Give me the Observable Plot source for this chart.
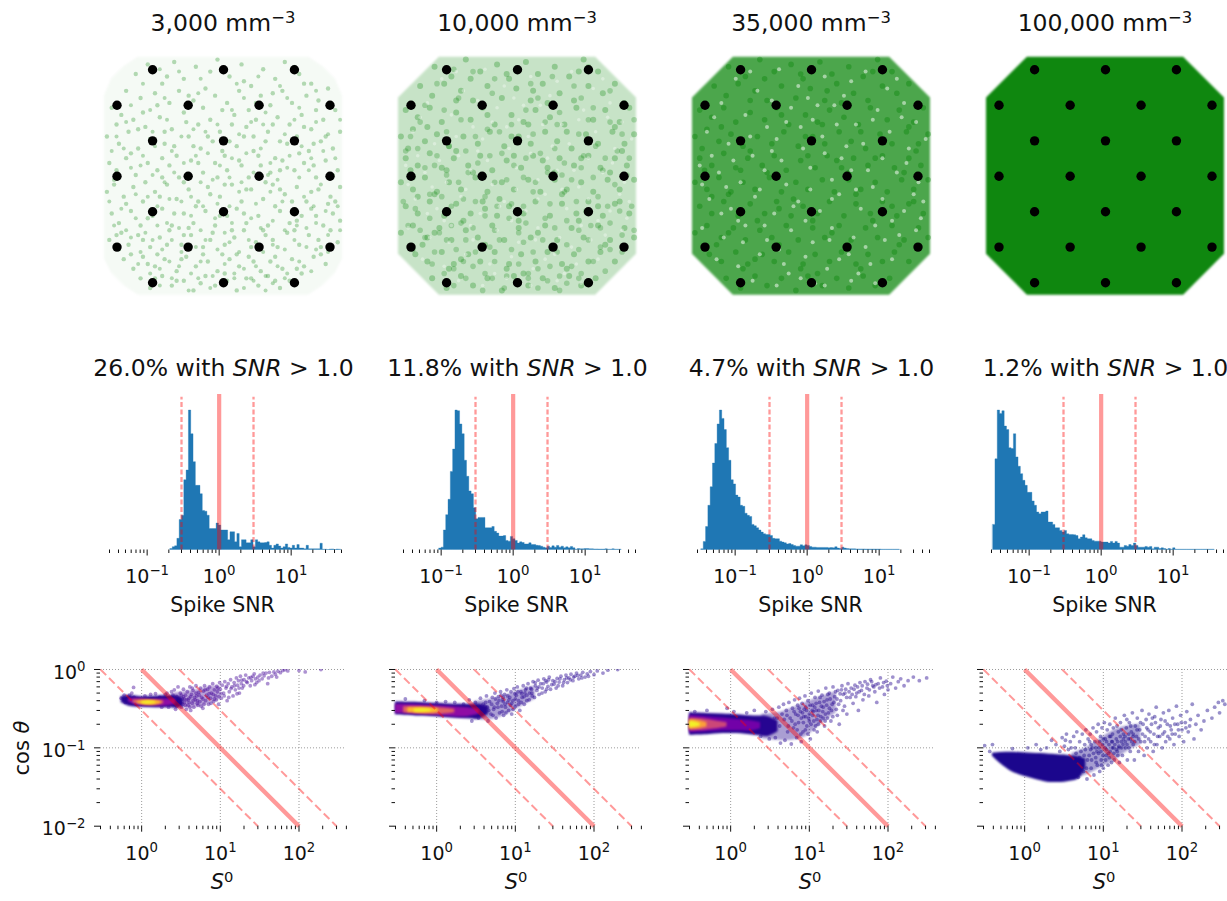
<!doctype html>
<html><head><meta charset="utf-8">
<script src="https://cdn.jsdelivr.net/npm/d3@7"></script>
<script src="https://cdn.jsdelivr.net/npm/@observablehq/plot@0.6"></script>
<style>
html,body{margin:0;padding:0;background:#fff}
#page{position:relative;width:1227px;height:901px;overflow:hidden;font-family:"DejaVu Sans",sans-serif;color:#111}
.t{position:absolute;transform:translate(-50%,-50%);white-space:nowrap}
.s{font-size:.7em;position:relative;top:-.5em;line-height:0}
</style></head><body><div id="page"></div>
<script>
// ---------- labels ----------
const densities = ["3,000","10,000","35,000","100,000"];
const fractions = ["26.0%","11.8%","4.7%","1.2%"];
const decadeLabels = new Map([[0.01,"10⁻²"],[0.1,"10⁻¹"],[1,"10⁰"],[10,"10¹"],[100,"10²"]]);

// ---------- probe layout, in the same 0-99 units as the neuron clouds ----------
const electrodeX = [20,49.5,79, 5.2,34.8,64.3,93.8, 20,49.5,79, 5.2,34.8,64.3,93.8, 20,49.5,79, 5.2,34.8,64.3,93.8, 20,49.5,79];
const electrodeY = [5.2,5.2,5.2, 20,20,20,20, 34.8,34.8,34.8, 49.5,49.5,49.5,49.5, 64.3,64.3,64.3, 79,79,79,79, 93.8,93.8,93.8];

// ---------- outline of each neuron cloud ----------
const cloudX = [0,17,82,99];
const cloudTop = [17,0,0,17];
const cloudBottom = [82,99,99,82];
const roundX = [0,3,8,14,85,91,96,99];
const roundTop = [16,9,4,0,0,4,9,16];
const roundBottom = [84,90,95,99,99,95,90,84];

// ---------- neurons read from the top row, flat x,y pairs ----------
const neurons1 = [13,7,18,3,24,11,29,2,33,9,38,4,42,13,47,1,52,8,57,3,61,12,66,5,71,9,75,2,81,7,86,11,
9,14,15,17,21,15,27,19,31,14,37,18,41,21,46,16,51,19,56,14,60,22,65,16,69,20,74,14,78,19,84,16,89,18,93,13,
3,21,7,24,12,26,17,29,23,25,28,30,33,23,39,28,44,26,48,31,54,24,59,29,63,26,68,31,72,25,77,28,82,24,86,30,91,26,96,22,
1,33,6,36,10,31,14,38,19,34,25,36,30,41,35,33,40,38,45,35,50,41,55,37,58,33,62,39,67,35,71,42,76,36,80,33,85,39,90,35,95,38,98,31,
2,44,5,47,9,42,13,49,18,44,22,47,27,45,31,50,36,43,41,48,46,44,51,47,56,43,60,50,65,45,69,48,74,43,79,47,83,44,88,50,92,43,97,47,
1,56,4,53,8,58,12,54,16,60,21,56,26,53,30,59,35,55,39,60,43,54,48,58,53,53,57,60,61,55,66,59,70,53,75,57,80,54,84,60,89,55,94,58,98,54,
3,65,6,69,11,64,15,70,20,66,24,63,28,70,33,65,37,69,42,64,46,70,51,66,55,63,59,69,64,66,68,70,73,64,77,69,82,66,86,63,91,70,95,65,98,68,
2,76,7,73,10,78,14,74,19,79,23,75,27,72,32,78,36,74,41,79,45,73,50,78,54,75,58,72,63,77,67,74,72,79,76,73,81,78,85,74,90,79,94,72,97,77,
8,84,12,88,16,83,21,87,25,84,30,89,34,83,38,87,43,85,47,89,52,84,56,87,60,83,65,89,69,85,74,88,78,84,83,87,87,83,92,86,
15,92,19,96,24,91,28,95,33,93,37,97,42,91,46,95,51,93,55,97,59,92,64,95,68,91,73,96,77,93,82,90,
22,20,26,8,35,16,44,6,49,22,58,10,63,19,70,15,83,11,88,22,
5,28,16,23,25,31,34,27,43,33,53,28,62,33,73,35,83,29,92,33,
11,40,24,42,29,37,39,44,49,39,57,45,64,41,73,47,81,40,87,45,
4,51,17,52,23,58,33,52,44,57,50,53,59,55,67,52,78,60,86,56,96,60,
9,61,18,67,29,65,38,62,48,66,58,65,71,62,80,68,88,66,93,61,
5,74,16,76,26,78,35,71,44,76,53,72,61,79,70,76,79,72,89,76,
11,82,22,82,32,84,41,82,49,82,62,85,71,83,80,88,90,82,
21,92,30,93,40,94,50,90,61,92,71,93,80,94,
14,30,37,37,52,35,70,28,24,50,47,50,73,55,33,74,66,72,55,82,18,86,87,36];

const neurons1b = [16,11,23,5,31,6,40,9,49,5,55,11,64,8,73,12,79,4,88,14,11,20,19,22,25,17,35,20,39,15,53,22,58,17,67,23,76,17,81,21,94,19,
5,33,9,27,20,31,26,26,32,33,37,30,42,31,47,28,56,32,61,27,66,28,75,32,79,26,88,27,93,32,98,26,
3,39,8,38,16,41,21,37,28,39,33,44,38,41,43,40,48,45,53,42,59,40,65,38,69,44,77,41,82,37,86,42,91,39,96,42,
6,50,11,46,15,45,20,49,25,52,29,48,35,49,40,52,45,51,52,50,57,52,62,48,68,49,72,51,76,46,81,50,85,47,90,53,95,49,
2,60,7,63,13,57,18,58,22,62,27,59,32,60,36,58,41,62,47,61,52,62,56,56,63,61,69,56,74,60,78,64,83,58,87,62,92,64,97,62,
4,70,9,72,13,67,17,73,22,70,26,69,31,71,36,66,40,72,46,67,50,73,53,69,61,67,65,71,70,68,75,72,80,70,84,71,88,69,93,74,98,72,
6,80,11,75,15,81,20,76,24,80,28,76,32,81,38,79,42,76,47,80,52,77,56,81,60,76,66,81,70,78,75,80,79,76,84,79,88,80,93,81,
14,86,19,90,23,88,27,85,31,87,36,90,40,85,45,91,50,86,54,90,58,88,63,87,67,91,72,87,76,90,81,85,86,89,
23,95,28,92,35,97,39,92,44,96,49,93,54,92,58,96,62,93,67,97,70,94,75,92];

const neurons2 = [15,4,22,8,28,1,34,6,41,3,46,9,53,2,58,7,65,4,71,8,77,1,83,6,
9,12,14,16,19,11,26,14,31,18,37,12,43,17,49,13,55,18,60,11,67,15,73,18,79,12,85,15,90,11,
3,22,8,25,13,21,18,27,24,23,30,26,35,21,40,28,47,24,52,27,57,22,63,25,69,28,74,21,81,26,86,22,92,27,96,21,
1,33,6,30,11,35,16,32,21,37,27,33,33,36,38,31,44,37,50,33,55,36,61,31,66,35,72,38,78,32,83,36,89,31,94,36,98,32,
3,42,8,45,13,40,18,46,23,42,29,45,34,41,39,47,45,43,51,46,56,41,62,46,67,42,73,45,79,41,84,46,90,42,95,45,
1,52,6,55,11,50,16,56,21,52,26,55,32,50,37,56,43,52,48,55,54,51,59,56,65,51,70,55,76,52,81,56,87,51,92,55,98,51,
3,62,8,65,13,60,19,66,24,61,30,65,35,60,41,66,46,62,52,65,57,60,63,66,68,61,74,65,79,60,85,66,90,61,96,65,
1,73,6,70,12,75,17,71,22,76,28,72,33,75,39,70,44,76,50,71,55,75,61,70,66,76,72,71,77,75,83,70,88,76,94,71,98,75,
7,82,12,85,18,81,23,86,29,82,34,85,40,81,46,86,51,82,57,85,62,81,68,86,73,82,79,85,84,81,90,85,
14,92,20,96,26,91,31,95,37,92,43,97,48,91,54,95,60,92,65,96,71,91,76,95,82,92,
24,18,45,7,62,19,12,29,37,24,70,31,90,29,24,39,47,33,76,42,5,47,31,48,60,43,88,48,
15,57,42,59,68,57,92,60,27,68,50,68,75,68,10,78,36,78,64,79,86,78,21,88,45,88,70,88,
30,9,56,14,75,6,4,38,54,28,93,39,20,47,65,48,48,41,8,58,36,63,83,62,15,73,58,73,26,84,52,90];

const specks3 = [18,9,27,14,36,5,44,12,55,8,63,16,72,6,81,13,12,19,22,24,31,29,41,21,50,26,59,20,68,28,77,22,88,19,93,27,
6,31,15,36,25,41,35,34,46,38,54,33,62,42,71,36,82,31,90,38,97,34,
3,45,11,48,20,52,30,47,39,53,49,46,58,51,66,47,75,54,85,48,94,52,
7,59,16,63,26,58,34,65,44,60,53,64,61,57,70,63,79,59,88,64,96,60,
4,71,13,75,22,70,31,76,41,72,50,77,58,71,67,75,76,70,86,74,93,72,
10,84,19,87,28,82,38,86,47,83,56,88,65,82,74,86,83,84,25,93,35,95,45,92,55,95,66,93,76,94,
24,6,48,17,85,9,9,25,39,27,75,26,55,40,17,43,89,44,28,55,68,55,47,68,83,68,36,80,61,84,21,77,
14,54,52,20,33,18,66,10,79,42,42,62,57,76,92,57,12,65,72,79,30,70,64,37,45,29,87,25,
24,33,8,41,37,43,60,28,73,47,19,68,49,55,80,76,40,90,69,90,4,53,95,67,33,39,58,59,51,94];

// ---------- scatter of S0 against cos theta, flat pairs for the sparse tail ----------
const tail1 = [.6,.47,.55,.43,.62,.38,.7,.47,.75,.5,.8,.44,.85,.36,.79,.59,1.1,.46,1.3,.48,1.5,.49,1.7,.44,1.8,.33,2,.48,2.1,.5,2.2,.33,2.4,.52,2.5,.47,2.6,.55,2.7,.31,2.8,.45,2.9,.6,3,.36,3.1,.5,3.2,.33,3.3,.42,3.4,.56,3.5,.38,3.6,.47,3.7,.31,3.8,.52,3.9,.35,4,.43,4.1,.6,4.2,.3,4.3,.48,4.4,.37,4.5,.54,4.6,.33,4.8,.41,4.9,.62,5,.46,5.2,.35,5.3,.51,5.5,.39,5.6,.58,5.8,.44,6,.32,6.1,.53,6.3,.62,6.5,.4,6.7,.47,6.9,.56,7.1,.36,7.3,.6,7.5,.43,7.7,.5,8,.66,8.2,.39,8.4,.55,8.7,.46,9,.61,9.2,.52,9.5,.36,9.8,.68,10,.56,10.3,.43,10.6,.63,11,.5,11.4,.7,11.8,.58,12.2,.4,12.6,.66,13,.52,13.5,.74,14,.6,14.5,.46,15,.68,15.5,.55,16,.78,16.5,.63,17,.72,17.5,.5,18,.82,18.5,.66,19,.58,20,.74,21,.85,22,.68,23,.78,24,.62,25,.72,26,.82,27,.88,28,.76,29,.68,30,.8,32,.85,34,.76,36,.83,38,.9,40,.66,42,.92,45,.82,48,.93,50,.87,54,.95,58,.91,62,.97,66,.99,72,.96,100,.97,120,.93,190,1,3.3,.36,2.9,.4,4,.38,3.4,.45,4.7,.44,2.6,.37,5.1,.4,3,.43,3.7,.41,2.8,.34,
2.7,.39,3.2,.47,3.9,.41,4.4,.58,5.1,.37,5.4,.47,6.2,.36,6.4,.55,7,.44,7.6,.37,8.1,.48,8.9,.41,9.3,.58,10.2,.49,11.2,.46,12,.61,12.8,.44,13.7,.57,15.1,.62,16.3,.49,17.3,.58,18.7,.73,19.8,.62,21.5,.7,24.5,.79,27.5,.64,31,.72,35,.9,41,.78,52,.8,3.6,.35,4.2,.45,4.5,.4,5.7,.34,3.1,.38,3.5,.42,4.1,.33,4.9,.5,6,.42,7.2,.49,8.4,.42,9.6,.45];

const tail2 = [.4,.42,.7,.4,1,.38,1.3,.39,1.7,.38,2.2,.36,2.6,.41,2.8,.22,3.1,.38,3.4,.24,3.6,.43,3.9,.28,4.1,.34,4.3,.46,4.5,.22,4.7,.39,4.9,.27,5.1,.44,5.3,.31,5.5,.5,5.7,.24,5.9,.37,6.1,.45,6.3,.28,6.5,.52,6.7,.34,6.9,.41,7.1,.26,7.3,.48,7.5,.33,7.8,.55,8,.38,8.2,.3,8.5,.44,8.8,.52,9,.27,9.3,.4,9.6,.57,10,.34,10.3,.47,10.6,.6,11,.4,11.4,.3,11.8,.52,12.2,.44,12.6,.62,13,.36,13.5,.55,14,.47,14.5,.66,15,.41,15.6,.58,16.2,.5,16.8,.7,17.5,.44,18,.62,18.8,.54,19.5,.73,20,.48,21,.66,22,.58,23,.76,24,.52,25,.69,26,.61,27,.8,28,.56,30,.72,31,.65,33,.58,34,.77,36,.69,38,.82,40,.62,42,.74,44,.85,46,.68,48,.78,51,.87,54,.72,57,.82,60,.9,64,.76,68,.85,72,.92,77,.8,82,.88,90,.94,100,.86,110,.96,130,.9,150,.98,200,1,5,.36,6,.33,7,.39,8,.46,9,.37,4.6,.3,5.6,.42,6.6,.47,7.6,.28,3.6,.33,4.2,.38,5.2,.26,10,.42,12,.49,14,.4,16,.56,20,.6,25,.56,
6.2,.4,7.4,.36,8.7,.35,9.9,.49,11,.36,12.9,.45,13.8,.58,15.2,.5,16.4,.46,17.9,.68,19,.58,21.8,.5,22.7,.66,24.3,.72,26.5,.74,29,.64,32,.7,35,.62,37,.76,41,.68,45,.78,50,.74,55,.8,62,.84,70,.78,85,.82,5.4,.33,6.8,.29,8.3,.41,9.4,.31,10.8,.52,11.9,.38,13.2,.5,4.4,.33,3.9,.36,7,.44];

const tail3 = [.35,.29,.5,.3,.9,.32,1.1,.29,1.6,.28,2,.3,2.4,.14,2.8,.29,3.1,.13,3.4,.31,3.7,.135,3.9,.24,4.1,.33,4.3,.115,4.5,.27,4.7,.36,4.9,.125,5.1,.3,5.3,.16,5.5,.38,5.7,.24,5.9,.112,6.1,.32,6.3,.18,6.5,.41,6.7,.27,6.9,.135,7.1,.35,7.3,.21,7.5,.43,7.7,.29,7.9,.12,8.1,.37,8.3,.16,8.5,.25,8.8,.46,9,.33,9.3,.19,9.6,.4,10,.27,10.3,.13,10.6,.5,11,.35,11.4,.22,11.8,.44,12.2,.3,12.6,.16,13,.53,13.5,.38,14,.25,14.5,.47,15,.33,15.6,.19,16.2,.58,16.8,.41,17.5,.28,18,.5,18.8,.22,19.5,.36,20,.6,21,.45,22,.31,23,.54,24,.2,25,.4,26,.62,27,.48,28,.34,29,.56,30,.27,31,.66,33,.44,34,.58,36,.37,38,.63,40,.5,42,.3,44,.68,46,.54,48,.41,51,.7,54,.58,57,.46,60,.74,64,.62,68,.52,72,.38,75,.66,80,.78,85,.6,90,.48,95,.71,100,.55,108,.66,115,.8,125,.58,135,.7,145,.76,160,.62,180,.72,210,.8,250,.72,310,.78,3,.2,3.6,.24,4.2,.19,4.8,.23,5.4,.19,6,.22,6.6,.2,7.2,.26,7.8,.15,8.4,.21,9,.25,9.6,.15,10.5,.2,11.5,.17,12.5,.23,6.4,.29,7.4,.32,8.2,.28,9.2,.3,10.2,.35,11.2,.29,12.2,.37,13.2,.3,14.2,.34,5.2,.26,16,.27,18,.32,15,.24,13,.2,
8.6,.31,9.8,.24,10.9,.3,11.7,.33,12.9,.26,13.7,.44,14.8,.29,15.4,.39,16.6,.35,17.2,.48,18.4,.42,19.1,.3,20.5,.38,21.5,.52,22.5,.42,23.6,.36,24.6,.49,25.6,.55,26.8,.3,28.4,.5,29.8,.44,32,.52,35,.48,37,.56,39,.45,41,.6,43,.52,47,.62,50,.48,55,.65,58,.55,62,.7,66,.6,70,.64,78,.58,88,.68,98,.62,7,.17,7.9,.24,8.9,.17,10,.22,11,.26,12,.19,13.8,.22,15.9,.22,17,.24,19.9,.25,22.7,.26];

const tail4 = [.31,.107,.36,.09,.39,.11,.7,.098,1.1,.1,1.4,.11,1.6,.095,1.9,.1,2.2,.125,2.5,.11,2.8,.09,3,.135,3.2,.105,3.4,.15,3.6,.095,3.8,.12,4,.047,4.2,.14,4.4,.1,4.6,.16,4.8,.042,5,.12,5.2,.09,5.4,.15,5.6,.05,5.8,.11,6,.17,6.2,.04,6.4,.13,6.6,.08,6.8,.15,7,.055,7.2,.1,7.4,.18,7.6,.045,7.8,.12,8,.075,8.2,.16,8.4,.06,8.6,.2,8.8,.1,9,.05,9.2,.14,9.4,.07,9.6,.18,9.8,.11,10,.055,10.3,.21,10.6,.13,10.9,.08,11.2,.17,11.5,.06,11.8,.11,12.1,.2,12.4,.14,12.7,.065,13,.1,13.4,.18,13.8,.07,14.2,.24,14.6,.13,15,.09,15.5,.16,16,.065,16.5,.21,17,.12,17.5,.08,18,.15,18.5,.26,19,.1,19.6,.18,20.2,.07,20.8,.13,21.4,.21,22,.09,22.7,.16,23.4,.28,24,.11,24.8,.07,25.5,.19,26.3,.14,27,.24,28,.09,29,.17,30,.12,31,.3,32,.2,33,.08,34,.14,35,.23,36,.1,37,.17,38,.27,40,.12,41,.2,43,.09,44,.15,45,.25,47,.33,48,.11,50,.18,52,.14,54,.23,56,.1,58,.28,60,.16,62,.12,65,.2,68,.3,70,.13,73,.17,76,.24,79,.11,82,.15,85,.34,88,.2,92,.14,96,.26,100,.17,105,.12,110,.21,115,.29,120,.16,128,.23,135,.36,142,.13,150,.2,160,.26,175,.17,190,.22,210,.3,240,.24,260,.33,290,.38,300,.28,330,.4,350,.36,400,.42,3.5,.07,4.3,.065,5,.075,5.7,.08,6.3,.07,6.9,.095,7.5,.085,8.1,.065,8.7,.085,9.3,.09,9.9,.08,10.5,.1,11,.095,11.6,.085,12.2,.09,12.8,.12,13.4,.1,14,.11,14.6,.095,15.2,.12,15.8,.105,16.4,.14,17,.1,18,.13,19,.12,20,.11,21,.15,22,.13,23,.12,24,.15,9,.12,10,.13,11,.12,12,.14,13,.12,7,.11,8,.1,
13.1,.15,14.9,.19,15.7,.1,16.9,.17,17.8,.11,18.9,.14,19.9,.23,21.1,.1,22.3,.19,23.9,.14,25.1,.12,26.8,.17,28.2,.13,29.7,.21,31.5,.15,33.5,.12,35.6,.18,37.6,.13,39.5,.16,42,.24,44.5,.11,46,.21,49,.14,53,.19,57,.15,61,.22,66,.14,71,.19,75,.15,81,.2,90,.17,98,.21,112,.18,125,.19,5.3,.06,6.1,.055,7.1,.07,8.3,.09,9.5,.06,10.7,.07,11.9,.075,13.6,.085,15.3,.08,4.5,.085,5.9,.095,6.7,.12,3.3,.125,3.9,.1];

// ---------- translucent haze where the dense core thins out into the tail ----------
const haze1 = {s:[2.5,3.5,5,7,10],lo:[.32,.32,.33,.36,.42],hi:[.5,.52,.55,.6,.62]};
const haze2 = {s:[3,5,8,12,18],lo:[.23,.23,.27,.34,.42],hi:[.39,.42,.48,.55,.62]};
const haze3 = {s:[2.5,4,6,9,14,22],lo:[.13,.125,.125,.14,.2,.28],hi:[.27,.28,.32,.38,.45,.52]};
const haze4 = {s:[4,6,9,14,20,30],lo:[.04,.045,.055,.07,.09,.11],hi:[.085,.1,.13,.17,.19,.2]};

// ---------- dense core of each scatter, as nested density bands ----------
const bands1 = [
 {level:.04,s:[.55,.7,1,1.5,2.2,2.9,3.4],lo:[.38,.34,.33,.325,.325,.325,.345],hi:[.45,.465,.45,.455,.465,.455,.42]},
 {level:.3,s:[.68,.9,1.3,2,2.7],lo:[.385,.35,.345,.34,.36],hi:[.43,.425,.415,.42,.42]},
 {level:.62,s:[.78,1,1.4,1.9],lo:[.375,.355,.35,.365],hi:[.405,.41,.405,.4]},
 {level:.85,s:[.88,1.1,1.5,1.75],lo:[.37,.358,.355,.37],hi:[.39,.4,.4,.39]},
 {level:.98,s:[1,1.2,1.5],lo:[.365,.36,.37],hi:[.385,.395,.385]}];
const bands2 = [
 {level:.04,s:[.3,.6,1,1.6,2.5,3.6,4.6],lo:[.265,.255,.25,.24,.235,.235,.27],hi:[.385,.38,.37,.36,.36,.36,.33]},
 {level:.3,s:[.3,.6,1,1.6,2.5,3.5],lo:[.275,.268,.26,.25,.25,.27],hi:[.36,.355,.345,.335,.325,.31]},
 {level:.6,s:[.38,.6,.9,1.3,1.7],lo:[.28,.272,.268,.27,.28],hi:[.335,.335,.33,.32,.31]},
 {level:.85,s:[.43,.6,.85,1.05],lo:[.283,.278,.278,.285],hi:[.325,.325,.32,.315]},
 {level:.98,s:[.52,.68,.85],lo:[.287,.285,.29],hi:[.312,.315,.31]}];
const bands3 = [
 {level:.04,s:[.3,.5,.8,1.2,2,3,4],lo:[.145,.147,.152,.152,.145,.14,.16],hi:[.28,.275,.27,.265,.255,.25,.22]},
 {level:.22,s:[.3,.5,.8,1.2,1.9,2.4],lo:[.155,.16,.165,.165,.165,.175],hi:[.26,.25,.24,.23,.22,.21]},
 {level:.5,s:[.3,.45,.65,.9],lo:[.165,.168,.175,.185],hi:[.24,.235,.22,.21]},
 {level:.78,s:[.3,.38,.5],lo:[.172,.175,.185],hi:[.228,.225,.21]},
 {level:.98,s:[.3,.35,.41],lo:[.18,.183,.19],hi:[.218,.215,.205]}];
const bands4 = [
 {level:.02,s:[.39,.5,.68,1.1,1.8,2.4,3.5,4.8,6],lo:[.078,.062,.05,.042,.037,.036,.037,.04,.055],hi:[.085,.087,.088,.086,.084,.082,.08,.077,.072]}];

// ---------- spike SNR histograms, bar heights in percent of the tallest bar ----------
const binStart = [25.7,14.8,1,0]; // index of the first bar on the shared log bins
const hist1 = [.7,2,2.6,8,21.5,24.6,50,57,100,83,63,46,46,40,28,27.5,24.6,15,15,15,19,17.5,14,14,14,7,12.7,12.7,5.5,11.5,2,7,7,4.8,4.8,7,2,7,5.5,4.8,4.8,5,5.5,3,1,3,4,2.5,1,2,4,1.5,1,3,1,3.5,1,1,.5,3,.5,.5,.5,.5,.5,4.5,.2,.2,0,.3,.4,0,.3,.2];
const hist2 = [1,1.7,14,25,36,56,72,100,99.5,90,83,64,52.5,42,40,30,22,23,23,23,15.6,15.6,15.6,16.5,13,11.8,9.6,9.6,10,6.5,6,9.4,7.7,6.5,4.6,5.5,5,4,4,4.8,3.6,3.6,3,2.9,2.4,1.7,1.2,2.4,1.4,2.6,1.7,2.9,1.7,2.4,1.2,1.9,1.2,2.2,1.2,.2,.7,.5,.5,.7,.7,.5,.5,.4,.4,.3,.3,.3,.5,.2,.2,.5,.2,.2,.2];
const hist3 = [.5,5.8,16.5,31.7,45,62,76,90,100,94,86,73,64,50,47,39,37.6,31.7,31,26,24.5,23.7,18,17,15.6,14,12.5,11.3,10.8,10.8,10,8,7.7,7.7,6,5.3,4.8,4,4.3,3.6,2.9,2.4,2.4,3.4,2.6,3.4,2.9,2.2,1.7,1.7,1.5,1.5,1.5,1.5,1.5,1.2,1.4,1.2,2,1,.8,1.7,1,.7,.5,.5,.5,.4,.4,.4,.4,.3,.3,.3,.3,.3,.3,.3,.2,.2,.2,.2,.2,.2,.2,.2];
const hist4 = [18,65,100,97.6,99.5,88.5,86,73,72.4,83,66.4,59.7,54.4,49.6,46,41,41,34.8,31.7,26.9,25.7,26.9,26.9,27.6,19.7,19.7,18,15.6,15.6,13.7,12.5,13.7,11.3,10.8,10.8,10.6,10,7.7,8.9,10.6,8.4,7.7,7.7,6.5,6,6,6,5.3,5.3,5.3,4.6,5.8,4.6,5.8,4.6,1.7,1.7,2.9,2.4,3.6,2.9,4.6,2.9,1.7,1.7,1.7,2.2,1.7,2.2,.5,1.7,1.7,.7,1.2,.7,.2,.7,.2,1.2,.2,.2,.2,.2,.2,.2,.2,.2,.2,.2,.2,.2,.2,.2,.2,.2,.2];

// ---------- reference lines: S0 * cos theta = 0.3, 1, 3 ----------
const solidLine = [[1,1],[100,.01]];
const dashLow = [[.3,1],[30,.01]];
const dashHigh = [[3,1],[300,.01]];

const histMajor = [.1,1,10];
const histMinor = [.03,.04,.05,.06,.07,.08,.09,.2,.3,.4,.5,.6,.7,.8,.9,2,3,4,5,6,7,8,9,20,30,40,50];
const sMajor = [1,10,100];
const sMinor = [.3,.4,.5,.6,.7,.8,.9,2,3,4,5,6,7,8,9,20,30,40,50,60,70,80,90,200,300,400];
const cMajor = [1,.1,.01];
const cMinor = [.9,.8,.7,.6,.5,.4,.3,.2,.09,.08,.07,.06,.05,.04,.03,.02];

// ---------- helpers ----------
const page = document.getElementById("page");
const font = '"DejaVu Sans",sans-serif';
const pairs = a => d3.range(0, a.length, 2).map(i => [a[i], a[i+1]]);
const fmt = d => decadeLabels.get(d);
const SVGNS = "http://www.w3.org/2000/svg";
const supMap = {"⁻":"−","⁰":"0","¹":"1","²":"2","³":"3"};
function place(svg, soft){
  svg.querySelectorAll("text").forEach(t=>{
    const m = /^10([⁻⁰¹²]+)$/.exec(t.textContent);
    if(!m) return;
    t.textContent = "10";
    const s = document.createElementNS(SVGNS,"tspan");
    s.setAttribute("dy","-.55em"); s.setAttribute("font-size","70%");
    s.textContent = [...m[1]].map(c=>supMap[c]).join("");
    t.appendChild(s);
  });
  svg.querySelectorAll('g[aria-label="y-axis tick label"] text').forEach(t=>{
    t.setAttribute("transform",(t.getAttribute("transform")||"")+" translate(0,3)");
  });
  if (soft) soft(svg);
  page.appendChild(svg);
}
const blurGroups = (svg, sel, px, skipLast) => {
  const gs = [...svg.querySelectorAll(sel)];
  if (skipLast) gs.pop();
  gs.forEach(g => g.style.filter = `blur(${px}px)`);
};
function label(html, x, y, size, rot){
  const d = document.createElement("div");
  d.className = "t"; d.innerHTML = html;
  d.style.left = x+"px"; d.style.top = y+"px"; d.style.fontSize = size+"px";
  if (rot) d.style.transform = "translate(-50%,-50%) rotate(-90deg)";
  page.appendChild(d);
}
const svgStyle = (l,t,fs) => ({position:"absolute",left:l+"px",top:t+"px",background:"transparent",maxWidth:"none",fontFamily:font,fontSize:fs+"px",color:"#111"});
const electrodes = electrodeX.map((x,i)=>[x,electrodeY[i]]);

// ---------- top row ----------
const n1 = pairs(neurons1), n1b = pairs(neurons1b), n2 = pairs(neurons2), sp3 = pairs(specks3);
const panelsTop = [
 {c:223, outline:[roundX,roundTop,roundBottom], wash:.04, layers:[[n1,2.2,"#008000",.28],[n1b,2,"#008000",.28]]},
 {c:517, outline:[cloudX,cloudTop,cloudBottom], wash:.22, layers:[[n2,3,"#008000",.28],[n1b,2.8,"#008000",.24],[sp3,1.8,"#ffffff",.35]]},
 {c:811, outline:[cloudX,cloudTop,cloudBottom], wash:.7, layers:[[n2,2.8,"#008000",.35],[sp3,2,"#ffffff",.5]]},
 {c:1105,outline:[cloudX,cloudTop,cloudBottom], wash:.94, layers:[]}];
panelsTop.forEach((p,k)=>{
  const [ox,ot,ob] = p.outline;
  const poly = ox.map((x,i)=>({x,y1:ot[i],y2:ob[i]}));
  place(Plot.plot({width:262,height:262,marginLeft:0,marginRight:0,marginTop:0,marginBottom:0,
    style:svgStyle(p.c-131,46,10),
    x:{domain:[0,99],range:[12,250],axis:null},
    y:{domain:[0,99],range:[10.7,248.7],axis:null},
    marks:[
      Plot.areaY(poly,{x:"x",y1:"y1",y2:"y2",fill:"#008000",fillOpacity:p.wash,curve:"linear"}),
      ...p.layers.map(([pts,r,fill,op])=>Plot.dot(pts,{x:d=>d[0],y:d=>d[1],r,fill,fillOpacity:op,stroke:"none"})),
      Plot.dot(electrodes,{x:d=>d[0],y:d=>d[1],r:4.7,fill:"#000",stroke:"none"})
    ]}), svg=>{blurGroups(svg,'g[aria-label="area"]',.8);blurGroups(svg,'g[aria-label="dot"]',.55,true);});
  label(`${densities[k]} mm<span class="s">−3</span>`, p.c, 23, 23.5);
});

// ---------- middle row ----------
const histData = [hist1,hist2,hist3,hist4];
const logMin = -1.5, logStep = .03205;
histData.forEach((h,k)=>{
  const c0 = 219 + 294*k, frameLeft = c0-109.7, frameW = 232;
  const edge = i => 10**(logMin+(binStart[k]+i)*logStep);
  const bars = h.map((v,i)=>({x:edge(i),v}));
  bars.push({x:edge(h.length),v:0});
  place(Plot.plot({width:frameW+60,height:230,marginLeft:30,marginRight:30,marginTop:4,marginBottom:70.5,
    style:svgStyle(frameLeft-30,390,19),
    x:{type:"log",domain:[.03,50]},
    y:{domain:[0,111.5],axis:null},
    marks:[
      Plot.areaY(bars,{x:"x",y:"v",curve:"step-after",fill:"#1f77b4",stroke:"#1f77b4",strokeOpacity:.35,strokeWidth:1}),
      Plot.ruleX([1],{stroke:"red",strokeOpacity:.4,strokeWidth:4.2}),
      Plot.ruleX([.3,3],{y1:0,y2:109.6,stroke:"red",strokeOpacity:.4,strokeWidth:2.3,strokeDasharray:"5 2.5"}),
      Plot.axisX(histMajor,{anchor:"bottom",tickSize:6,tickPadding:13,tickFormat:fmt,stroke:"#111",fill:"#111",label:null}),
      Plot.axisX(histMinor,{anchor:"bottom",tickSize:3.5,fill:"none",stroke:"#111",label:null})
    ]}));
  label(`${fractions[k]} with <i>SNR</i> &gt; 1.0`, 223.5+294*k, 368, 23.5);
  label("Spike SNR", 222.5+294*k, 605, 20.5);
});

// ---------- bottom row ----------
const scatters = [
 {tail:pairs(tail1),bands:bands1,haze:haze1,fill:"#4a0d9c"},
 {tail:pairs(tail2),bands:bands2,haze:haze2,fill:"#2d0c94"},
 {tail:pairs(tail3),bands:bands3,haze:haze3,fill:"#2a0c92"},
 {tail:pairs(tail4),bands:bands4,haze:haze4,fill:"#1d0a8c"}];
scatters.forEach((sc,k)=>{
  const frameLeft = 100.3+294.2*k;
  const rowsOf = b => b.s.map((s,i)=>({s,lo:b.lo[i],hi:b.hi[i]}));
  const bandMarks = sc.bands.map(b=>Plot.areaY(rowsOf(b),{x:"s",y1:"lo",y2:"hi",fill:d3.interpolatePlasma(b.level),curve:"catmull-rom"}));
  const line = (pts,w,dash)=>Plot.line(pts,{x:d=>d[0],y:d=>d[1],stroke:"red",strokeOpacity:.4,strokeWidth:w,strokeDasharray:dash,strokeLinecap:"butt"});
  place(Plot.plot({width:100+245.9+20,height:240,marginLeft:100,marginRight:20,marginTop:19,marginBottom:64.3,
    style:svgStyle(frameLeft-100,650,19),
    x:{type:"log",domain:[.3,400]},
    y:{type:"log",domain:[.01,1]},
    marks:[
      Plot.ruleX(sMajor,{stroke:"#999",strokeWidth:1,strokeDasharray:"1 2"}),
      Plot.ruleY([1,.1],{stroke:"#999",strokeWidth:1,strokeDasharray:"1 2"}),
      Plot.areaY(rowsOf(sc.haze),{x:"s",y1:"lo",y2:"hi",fill:sc.fill,fillOpacity:.4,curve:"catmull-rom"}),
      Plot.dot(sc.tail,{x:d=>d[0],y:d=>d[1],r:1.9,fill:sc.fill,fillOpacity:.45,stroke:"none",clip:true}),
      ...bandMarks,
      line(solidLine,4.4),line(dashLow,2,"8 4"),line(dashHigh,2,"8 4"),
      Plot.axisX(sMajor,{anchor:"bottom",tickSize:6,tickPadding:14,tickFormat:fmt,stroke:"#111",fill:"#111",label:null}),
      Plot.axisX(sMinor,{anchor:"bottom",tickSize:3.5,fill:"none",stroke:"#111",label:null}),
      Plot.axisY(cMajor,{anchor:"left",tickSize:6,tickPadding:9,tickFormat:fmt,stroke:"#111",fill:k===0?"#111":"none",label:null}),
      Plot.axisY(cMinor,{anchor:"left",tickSize:3.5,fill:"none",stroke:"#111",label:null})
    ]}), svg=>{blurGroups(svg,'g[aria-label="area"]',1.3);blurGroups(svg,'g[aria-label="dot"]',.4);});
  label('<i>S</i><span class="s">0</span>', 222+294*k, 882, 21);
});
label('cos <i>θ</i>', 22, 748, 21, true);
</script></body></html>
